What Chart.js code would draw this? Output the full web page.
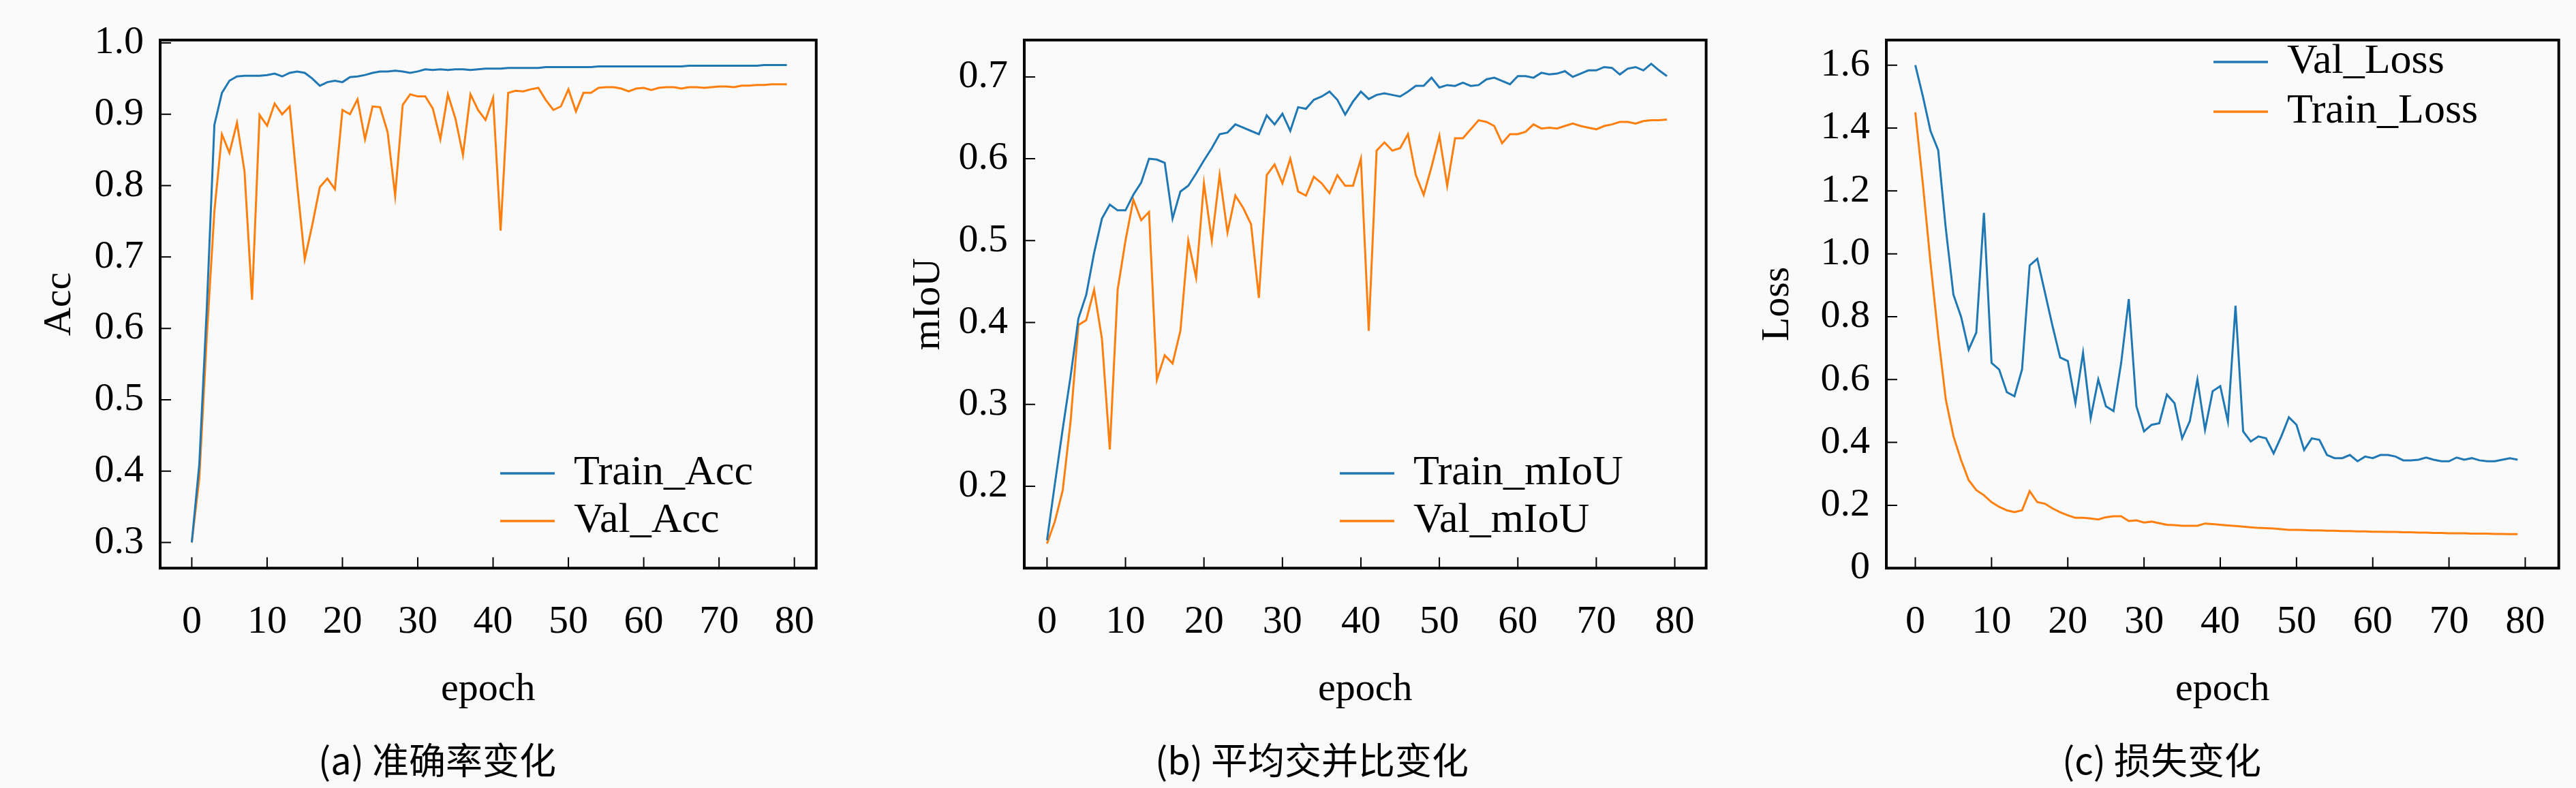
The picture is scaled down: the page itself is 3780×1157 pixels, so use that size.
<!DOCTYPE html>
<html>
<head>
<meta charset="utf-8">
<script src="https://cdn.jsdelivr.net/npm/chart.js@4"></script>
<style>
body{margin:0;background:#fafafa;width:3780px;height:1157px;overflow:hidden;position:relative}
.p{position:absolute;top:0;height:1157px}
</style>
</head>
<body>
<div class="p" style="left:0;width:1240px"><canvas id="accChart"></canvas></div>
<div class="p" style="left:1250px;width:1282px"><canvas id="miouChart"></canvas></div>
<div class="p" style="left:2450px;width:1330px"><canvas id="lossChart"></canvas></div>
<script>
// epochs 0..79
const epochs=[];
for(let i=0;i<80;i++)epochs.push(i);
const xTicks=[0,10,20,30,40,50,60,70,80];

const trainAcc=[0.30,0.41,0.63,0.885,0.93,0.947,0.953,0.954,0.954,0.954,0.955,0.957,0.953,0.958,0.960,0.958,0.950,0.940,0.945,0.947,
0.945,0.952,0.953,0.955,0.958,0.960,0.960,0.961,0.960,0.958,0.960,0.963,0.962,0.963,0.962,0.963,0.963,0.962,0.963,0.964,
0.964,0.964,0.965,0.965,0.965,0.965,0.965,0.966,0.966,0.966,0.966,0.966,0.966,0.966,0.967,0.967,0.967,0.967,0.967,0.967,
0.967,0.967,0.967,0.967,0.967,0.967,0.968,0.968,0.968,0.968,0.968,0.968,0.968,0.968,0.968,0.968,0.969,0.969,0.969,0.969];
const valAcc=[0.30,0.39,0.59,0.764,0.872,0.846,0.888,0.82,0.64,0.899,0.884,0.915,0.90,0.911,0.80,0.697,0.745,0.798,0.81,0.795,
0.906,0.90,0.921,0.865,0.911,0.91,0.875,0.786,0.913,0.928,0.925,0.925,0.908,0.865,0.928,0.894,0.843,0.928,0.906,0.892,
0.923,0.737,0.93,0.933,0.932,0.935,0.937,0.92,0.906,0.911,0.935,0.904,0.93,0.93,0.937,0.938,0.938,0.936,0.932,0.936,
0.937,0.934,0.937,0.938,0.938,0.936,0.938,0.938,0.937,0.938,0.939,0.939,0.938,0.94,0.94,0.941,0.941,0.942,0.942,0.942];
const accTicks=[0.3,0.4,0.5,0.6,0.7,0.8,0.9,1.0];

const trainMiou=[0.134,0.203,0.27,0.334,0.405,0.434,0.485,0.527,0.544,0.537,0.537,0.556,0.571,0.60,0.599,0.595,0.527,0.56,0.567,0.582,
0.598,0.613,0.63,0.632,0.642,0.638,0.634,0.63,0.653,0.642,0.655,0.634,0.663,0.661,0.672,0.676,0.682,0.672,0.654,0.67,
0.682,0.673,0.678,0.68,0.678,0.676,0.682,0.689,0.689,0.699,0.687,0.69,0.689,0.693,0.689,0.69,0.697,0.699,0.695,0.691,
0.701,0.701,0.699,0.705,0.703,0.704,0.707,0.70,0.704,0.708,0.708,0.712,0.711,0.703,0.71,0.712,0.708,0.716,0.708,0.701];
const valMiou=[0.13,0.157,0.195,0.279,0.397,0.403,0.44,0.38,0.245,0.44,0.50,0.55,0.525,0.535,0.33,0.36,0.35,0.39,0.50,0.455,
0.57,0.50,0.58,0.51,0.555,0.54,0.52,0.43,0.58,0.593,0.57,0.60,0.56,0.555,0.578,0.57,0.558,0.58,0.567,0.567,
0.60,0.39,0.61,0.62,0.61,0.613,0.63,0.58,0.556,0.59,0.628,0.567,0.625,0.625,0.636,0.647,0.645,0.64,0.619,0.63,
0.63,0.633,0.642,0.637,0.638,0.637,0.64,0.643,0.64,0.638,0.636,0.64,0.642,0.645,0.645,0.643,0.646,0.647,0.647,0.648];
const miouTicks=[0.2,0.3,0.4,0.5,0.6,0.7];

const valLoss=[1.60,1.50,1.39,1.33,1.08,0.87,0.80,0.695,0.75,1.13,0.653,0.632,0.56,0.547,0.632,0.963,0.984,0.877,0.77,0.67,
0.659,0.525,0.685,0.477,0.60,0.515,0.50,0.653,0.856,0.515,0.435,0.456,0.461,0.552,0.525,0.413,0.467,0.60,0.44,0.563,
0.579,0.467,0.835,0.435,0.403,0.419,0.413,0.365,0.419,0.48,0.456,0.376,0.413,0.408,0.36,0.35,0.35,0.36,0.34,0.355,
0.35,0.36,0.36,0.355,0.343,0.343,0.345,0.352,0.345,0.34,0.34,0.352,0.345,0.35,0.343,0.34,0.34,0.345,0.35,0.345];
const trainLoss=[1.45,1.22,0.97,0.74,0.536,0.42,0.344,0.28,0.248,0.232,0.21,0.195,0.184,0.178,0.184,0.245,0.21,0.205,0.19,0.178,
0.168,0.16,0.16,0.158,0.155,0.162,0.165,0.165,0.15,0.152,0.145,0.148,0.143,0.138,0.137,0.135,0.135,0.135,0.142,0.14,
0.138,0.136,0.134,0.132,0.13,0.128,0.127,0.126,0.124,0.122,0.122,0.121,0.12,0.12,0.119,0.119,0.118,0.118,0.117,0.117,
0.116,0.116,0.115,0.115,0.114,0.114,0.113,0.113,0.112,0.112,0.111,0.111,0.111,0.110,0.110,0.110,0.109,0.109,0.108,0.108];
const lossTicks=[0,0.2,0.4,0.6,0.8,1.0,1.2,1.4,1.6];

const BLUE='#1f77b4', ORANGE='#ff7f0e';
const SERIF='"Liberation Serif", "DejaVu Serif", serif';
const CJK='"Noto Sans CJK SC", sans-serif';

// frame, inward ticks and in-plot legend
const framePlugin={
  id:'frame',
  afterDraw(chart,args,opts){
    const {ctx,chartArea:a,scales}=chart;
    ctx.save();
    ctx.strokeStyle='#000';
    ctx.lineWidth=2;
    ctx.beginPath();
    scales.x.ticks.forEach(t=>{const px=scales.x.getPixelForValue(t.value);ctx.moveTo(px,a.bottom);ctx.lineTo(px,a.bottom-16);});
    scales.y.ticks.forEach(t=>{const py=scales.y.getPixelForValue(t.value);ctx.moveTo(a.left,py);ctx.lineTo(a.left+16,py);});
    ctx.stroke();
    ctx.lineWidth=4;
    ctx.strokeRect(a.left,a.top,a.right-a.left,a.bottom-a.top);
    // legend
    ctx.font='62px '+SERIF;
    ctx.textBaseline='middle';
    chart.data.datasets.forEach((d,i)=>{
      const y=opts.y+i*opts.gap;
      ctx.strokeStyle=d.borderColor;ctx.lineWidth=3.5;
      ctx.beginPath();ctx.moveTo(opts.x,y);ctx.lineTo(opts.x+80,y);ctx.stroke();
      ctx.fillStyle='#000';
      ctx.fillText(d.label,opts.x+108,y);
    });
    ctx.restore();
  }
};

function makeChart(id,sets,yMin,yMax,yTicks,yTitle,yWidth,padLeft,xMin,xMax,caption,legendPos,fmt){
  new Chart(document.getElementById(id),{
    type:'line',
    data:{labels:epochs,datasets:sets.map(s=>({label:s[0],data:s[1].map((v,i)=>({x:epochs[i],y:v})),borderColor:s[2],borderWidth:3,pointRadius:0,tension:0}))},
    options:{
      responsive:true,maintainAspectRatio:false,animation:false,
      layout:{padding:{left:padLeft,top:31,right:10,bottom:0}},
      plugins:{
        legend:{display:false},tooltip:{enabled:false},
        title:{display:true,position:'bottom',text:caption,color:'#000',font:{family:CJK,size:54,weight:'normal'},padding:{top:0,bottom:8}},
        frame:legendPos
      },
      scales:{
        x:{type:'linear',min:xMin,max:xMax,
          grid:{display:false,drawTicks:false},border:{display:false},
          afterBuildTicks:s=>{s.ticks=xTicks.map(v=>({value:v}));},
          afterFit:s=>{s.height=250;},
          ticks:{color:'#000',padding:45,maxRotation:0,font:{family:SERIF,size:58},callback:v=>String(v)},
          title:{display:true,text:'epoch',color:'#000',font:{family:SERIF,size:58},padding:{top:0,bottom:37}}},
        y:{min:yMin,max:yMax,
          grid:{display:false,drawTicks:false},border:{display:false},
          afterBuildTicks:s=>{s.ticks=yTicks.map(v=>({value:v}));},
          afterFit:s=>{s.width=yWidth;},
          ticks:{color:'#000',padding:24,font:{family:SERIF,size:58},callback:fmt},
          title:{display:true,text:yTitle,color:'#000',font:{family:SERIF,size:58},padding:0}}
      }
    },
    plugins:[framePlugin]
  });
}

makeChart('accChart',[['Train_Acc',trainAcc,BLUE],['Val_Acc',valAcc,ORANGE]],0.264,1.004,accTicks,'Acc',182,53,-4.2,82.9,'(a) 准确率变化',{x:734,y:695,gap:70},v=>v.toFixed(1));
makeChart('miouChart',[['Train_mIoU',trainMiou,BLUE],['Val_mIoU',valMiou,ORANGE]],0.1,0.745,miouTicks,'mIoU',175,78,-2.9,84.0,'(b) 平均交并比变化',{x:716,y:695,gap:70},v=>v.toFixed(1));
makeChart('lossChart',[['Val_Loss',valLoss,BLUE],['Train_Loss',trainLoss,ORANGE]],0,1.68,lossTicks,'Loss',194,124,-3.8,84.4,'(c) 损失变化',{x:798,y:91,gap:73},v=>v===0?'0':v.toFixed(1));
</script>
</body>
</html>
